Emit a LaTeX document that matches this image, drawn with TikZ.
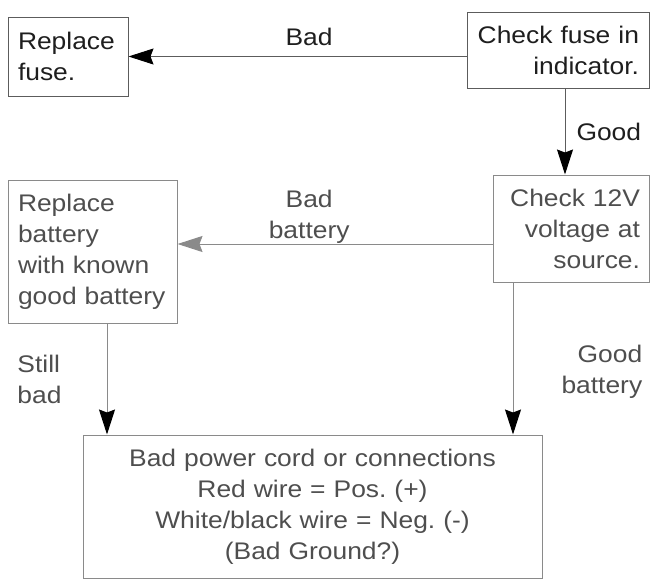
\documentclass[tikz,border=0pt]{standalone}
\usepackage{fontspec}
\setmainfont{Liberation Sans}[FakeStretch=1.1]
\usepackage{tikz}
\usetikzlibrary{arrows.meta,positioning,calc}
\definecolor{inkdark}{HTML}{1E1E1E}
\definecolor{inkgrey}{HTML}{4E4E4E}
\definecolor{rulegrey}{HTML}{5C5C5C}
\definecolor{rulelight}{HTML}{8A8A8A}
\newcommand{\flowfont}{\frenchspacing\fontsize{24}{31}\selectfont}

\begin{document}
\begin{tikzpicture}[
    x=1pt,y=-1pt,
    box/.style={draw=rulegrey,line width=1pt,rectangle,inner ysep=0pt,inner xsep=10pt,font=\flowfont,text=inkdark},
    softbox/.style={box,draw=rulelight,text=inkgrey},
    flow/.style={-{Stealth[length=25pt,width=16pt,inset=3pt,color=black]},line width=1pt,rulegrey},
    softflow/.style={flow,rulelight},
    paleflow/.style={-{Stealth[length=25pt,width=16pt,inset=3pt,color=rulelight]},line width=1pt,rulelight},
    note/.style={font=\flowfont,inner sep=0pt,text=inkdark},
    softnote/.style={note,text=inkgrey}
]
\useasboundingbox (0,0) rectangle (650,581);

\node[box,text width=100pt,minimum height=79pt,align=left] (rfuse) at (68,56.5) {Replace\\fuse.};
\node[box,text width=162pt,minimum height=76pt,align=right] (chkfuse) at (558,50) {Check fuse in\\indicator.};
\node[softbox,inner xsep=9pt,text width=138pt,minimum height=107pt,align=right] (chkvolt) at (571,228.5) {Check 12V\\voltage at\\source.};
\node[softbox,text width=149pt,minimum height=143pt,align=left] (rbatt) at (92.5,251.5) {Replace\\battery\\with known\\good battery};
\node[softbox,text width=439pt,minimum height=143pt,align=center] (cord) at (312.5,506.5) {Bad power cord or connections\\Red wire = Pos. (+)\\White/black wire = Neg. (-)\\(Bad Ground?)};

\draw[flow] (chkfuse.west |- rfuse) -- node[note,pos=0.466,above=10pt] {Bad} (rfuse.east);
\draw[flow] ([xshift=7pt]chkfuse.south) -- node[note,midway,right=11pt] {Good} ([xshift=7pt]chkfuse.south |- chkvolt.north);
\draw[paleflow] ([yshift=-15.5pt]chkvolt.west) -- node[softnote,pos=0.582,above=0pt,align=center] {Bad\\battery} ([yshift=-15.5pt]chkvolt.west -| rbatt.east);
\draw[softflow] ([xshift=14.5pt]rbatt.south) -- node[softnote,midway,left=45pt,align=left] {Still\\bad} ([xshift=14.5pt]rbatt.south |- cord.north);
\draw[softflow] ([xshift=-58pt]chkvolt.south) -- node[softnote,pos=0.59,right=48pt,align=right] {Good\\battery} ([xshift=-58pt]chkvolt.south |- cord.north);
\end{tikzpicture}
\end{document}
